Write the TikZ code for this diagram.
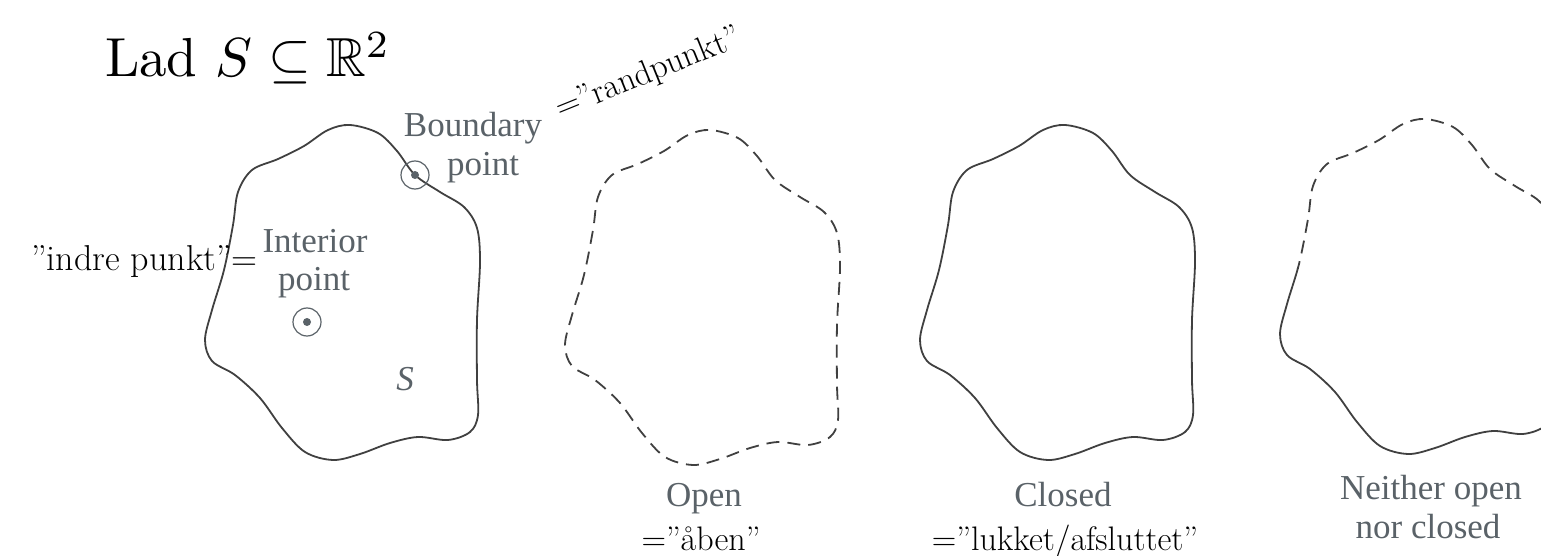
\documentclass[tikz,border=0pt]{standalone}
\usepackage{amssymb}
\usepackage{fontspec}
\newfontfamily\bookfont{Liberation Serif}
\definecolor{ink}{HTML}{404040}
\definecolor{booktext}{HTML}{5A6268}
\tikzset{
  solidline/.style={draw=ink, line width=1.8pt, line join=round},
  dashedline/.style={solidline, dash pattern=on 13pt off 8pt},
  booklabel/.style={font=\bookfont\fontsize{35}{40}\selectfont, text=booktext, inner sep=0pt},
  note/.style={font=\fontsize{34}{40}\selectfont, inner sep=0pt},
  ring/.style={circle, draw=booktext, line width=1.2pt, minimum size=28pt, inner sep=0pt},
  pointdot/.style={circle, fill=booktext, minimum size=8pt, inner sep=0pt},
  pics/blobshape/.style={code={
    \draw[#1] plot[smooth cycle, tension=0.55] coordinates {
      (350,125) (378,133) (397,151) (415,175) (440,192) (464,207) (477,228)
      (480,262) (477,320) (477,380) (478,415) (470,432) (448,440) (418,437)
      (390,443) (360,454) (333,460) (305,452) (282,428) (260,398) (235,375)
      (212,361) (205,340) (212,310) (224,270) (233,225) (238,192) (252,170)
      (278,159) (304,146) (328,130)};
  }}
}
\begin{document}
\begin{tikzpicture}[x=1pt,y=-1pt]
\useasboundingbox (0,0) rectangle (1541,556);
% title
\node[inner sep=0pt, anchor=base west, font=\fontsize{10}{12}\selectfont, scale=5.5] (title) at (104,77) {Lad $S \subseteq \mathbb{R}^2$};
% shapes
\pic at (0,0) {blobshape=solidline};
\pic at (360,5) {blobshape=dashedline};
\pic at (715,0) {blobshape=solidline};
\begin{scope}
  \clip (1260,0) rectangle (1541,268);
  \pic at (1075,-6) {blobshape=dashedline};
\end{scope}
\begin{scope}
  \clip (1260,268) rectangle (1541,556);
  \pic at (1075,-6) {blobshape=solidline};
\end{scope}
% points
\node[ring] (bpring) at (415,175) {};
\node[pointdot] (bpdot) at (bpring.center) {};
\node[ring] (ipring) at (307,322) {};
\node[pointdot] (ipdot) at (ipring.center) {};
% book labels
\node[booklabel, anchor=base] (bnd1) at (473,137) {Boundary};
\node[booklabel, anchor=base] (bnd2) at (483,176) {point};
\node[booklabel, anchor=base] (int1) at (315,252) {Interior};
\node[booklabel, anchor=base] (int2) at (314,290) {point};
\node[booklabel, anchor=base] (slab) at (405,390) {\itshape S};
\node[booklabel, anchor=base] (open) at (704,506) {Open};
\node[booklabel, anchor=base] (closed) at (1063,506) {Closed};
\node[booklabel, anchor=base] (neither1) at (1431,499) {Neither open};
\node[booklabel, anchor=base] (neither2) at (1428,538) {nor closed};
% Danish notes
\node[note, anchor=base east, font=\fontsize{36}{40}\selectfont] (indre) at (258,270) {”indre punkt”=};
\node[note, anchor=base west, rotate=22] (rand) at (560,119) {=”randpunkt”};
\node[note, anchor=base] (aaben) at (701,550) {=”åben”};
\node[note, anchor=base] (lukket) at (1065,550) {=”lukket/afsluttet”};
\end{tikzpicture}
\end{document}
